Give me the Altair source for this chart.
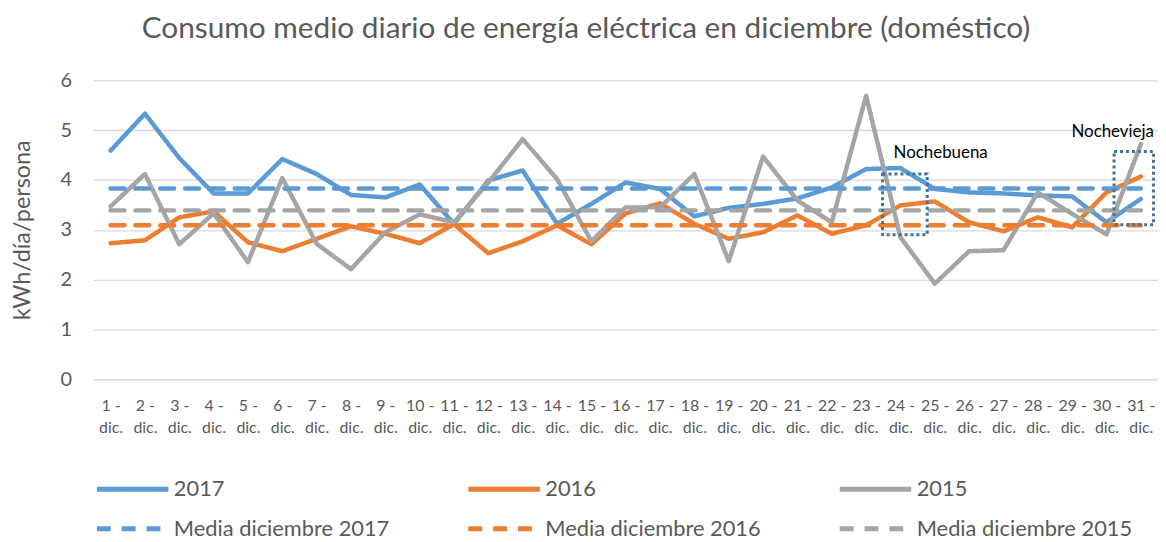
import altair as alt
import pandas as pd

days = list(range(1, 32))
v2017 = [4.59, 5.33, 4.44, 3.73, 3.73, 4.42, 4.12, 3.70, 3.65, 3.91, 3.12, 3.99, 4.19, 3.12, 3.52, 3.95,
         3.82, 3.27, 3.44, 3.52, 3.63, 3.85, 4.22, 4.24, 3.82, 3.75, 3.73, 3.69, 3.67, 3.15, 3.62]
v2016 = [2.73, 2.79, 3.25, 3.37, 2.75, 2.57, 2.82, 3.07, 2.92, 2.73, 3.11, 2.53, 2.77, 3.09, 2.71, 3.33,
         3.53, 3.12, 2.82, 2.95, 3.29, 2.92, 3.09, 3.49, 3.57, 3.15, 2.97, 3.25, 3.05, 3.75, 4.07]
v2015 = [3.47, 4.12, 2.71, 3.33, 2.35, 4.04, 2.72, 2.21, 2.95, 3.31, 3.15, 3.95, 4.82, 4.02, 2.77, 3.45,
         3.45, 4.12, 2.37, 4.47, 3.59, 3.15, 5.69, 2.85, 1.92, 2.57, 2.59, 3.75, 3.32, 2.91, 4.72]
series_names = ["2017", "2016", "2015"]
mean_names = ["Media diciembre 2017", "Media diciembre 2016", "Media diciembre 2015"]
mean_values = [3.83, 3.09, 3.39]
colors = ["#5B9BD5", "#ED7D31", "#A5A5A5"]

# annotation boxes (day ranges and value ranges) and labels
box_labels = ["Nochebuena", "Nochevieja"]
box_x0 = [23.48, 30.22]
box_x1 = [24.78, 31.37]
box_y0 = [2.90, 3.10]
box_y1 = [4.12, 4.57]
label_x = [23.80, 28.98]
label_y = [4.55, 4.97]

rows = []
for name, vals in zip(series_names, [v2017, v2016, v2015]):
    for d, v in zip(days, vals):
        rows.append({"serie": name, "dia": d, "valor": v})
for name, m in zip(mean_names, mean_values):
    for d in (days[0], days[-1]):
        rows.append({"serie": name, "dia": d, "valor": m})
df = pd.DataFrame(rows)

domain = series_names + mean_names
x_scale = alt.Scale(domain=[0.5, 31.5], nice=False, zero=False)
y_scale = alt.Scale(domain=[0, 6], nice=False)

x_axis = alt.Axis(values=days, labelExpr="[datum.value + ' -', 'dic.']", title=None,
                  grid=False, ticks=False, domain=False, labelFontSize=16,
                  labelColor="#595959", labelPadding=18, labelLineHeight=23,
                  labelFont="Lato", labelOverlap=False, labelBound=False, labelFlush=False)
y_axis = alt.Axis(values=[0, 1, 2, 3, 4, 5, 6], title="kWh/día/persona", grid=True,
                  gridColor="#D9D9D9", gridWidth=1.3, ticks=False, domain=False,
                  labelFontSize=20, labelColor="#595959", labelPadding=22,
                  titleFontSize=23.5, titleColor="#595959", titleFontWeight="normal",
                  titleFont="Lato", labelFont="Lato", titlePadding=26)

legend = alt.Legend(orient="none", legendX=-8, legendY=400, columns=3, direction="horizontal",
                    symbolType="M0,0H8", symbolSize=324, symbolStrokeWidth=5,
                    labelFontSize=22, labelColor="#595959", labelFont="Lato", labelLimit=400,
                    columnPadding=67, rowPadding=17, title=None, gridAlign="each",
                    labelOffset=66)

lines = alt.Chart(df).mark_line(strokeWidth=4.5, strokeJoin="round", strokeCap="round").encode(
    x=alt.X("dia:Q", scale=x_scale, axis=x_axis),
    y=alt.Y("valor:Q", scale=y_scale, axis=y_axis),
    color=alt.Color("serie:N", scale=alt.Scale(domain=domain, range=colors + colors),
                    legend=legend),
    strokeDash=alt.StrokeDash("serie:N",
                              scale=alt.Scale(domain=domain,
                                              range=[[1, 0], [1, 0], [1, 0], [14, 11], [14, 11], [14, 11]]),
                              legend=legend),
    order=alt.Order("dia:Q"),
)

boxes_df = pd.DataFrame({"etiqueta": box_labels, "x0": box_x0, "x1": box_x1, "y0": box_y0,
                         "y1": box_y1, "lx": label_x, "ly": label_y})

boxes = alt.Chart(boxes_df).mark_rect(filled=False, stroke="#41719C", strokeWidth=3,
                                      strokeDash=[3, 3]).encode(
    x=alt.X("x0:Q", scale=x_scale, axis=x_axis), x2="x1:Q",
    y=alt.Y("y0:Q", scale=y_scale, axis=y_axis), y2="y1:Q")

labels = alt.Chart(boxes_df).mark_text(align="left", baseline="middle", fontSize=17,
                                       font="Lato", color="#000000").encode(
    x=alt.X("lx:Q", scale=x_scale, axis=x_axis), y=alt.Y("ly:Q", scale=y_scale, axis=y_axis),
    text="etiqueta:N")

chart = alt.layer(lines, boxes, labels).properties(
    width=1072, height=301,
    autosize=alt.AutoSizeParams(type="none"),
    padding={"left": 86, "top": 71, "right": 0, "bottom": 160},
    title=alt.TitleParams("Consumo medio diario de energía eléctrica en diciembre (doméstico)",
                          fontSize=30, font="Lato", color="#595959", fontWeight="normal",
                          anchor="middle", dx=-40, offset=27),
).configure_view(stroke=None).configure_axisX(labelOverlap=False)

chart.save("out.html", embed_options={"renderer": "svg", "actions": False})
